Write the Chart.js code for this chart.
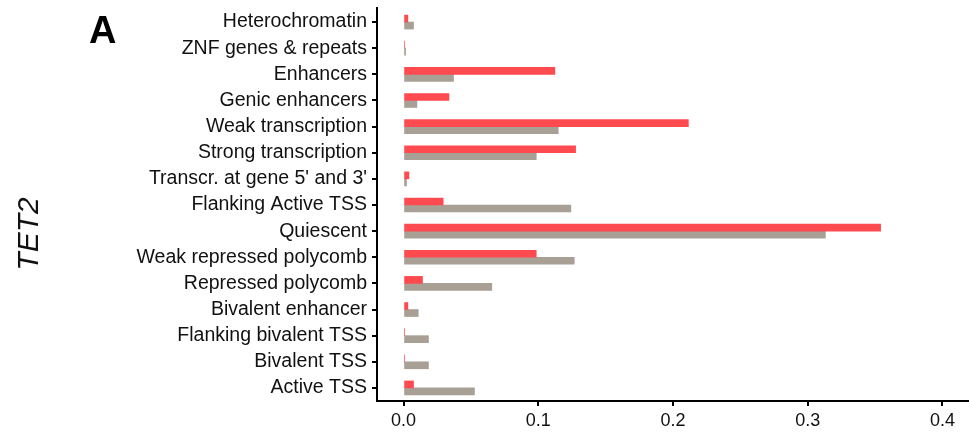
<!DOCTYPE html>
<html>
<head>
<meta charset="utf-8">
<script src="https://cdn.jsdelivr.net/npm/chart.js@4/dist/chart.umd.min.js"></script>
<style>
  html, body { margin: 0; padding: 0; background: #ffffff; }
  #wrap { width: 969px; height: 434px; position: relative; }
</style>
</head>
<body>
<div id="wrap"><canvas id="chart" width="969" height="434"></canvas></div>
<script>
// Chromatin states, listed top to bottom
const states = [
  "Heterochromatin",
  "ZNF genes & repeats",
  "Enhancers",
  "Genic enhancers",
  "Weak transcription",
  "Strong transcription",
  "Transcr. at gene 5' and 3'",
  "Flanking Active TSS",
  "Quiescent",
  "Weak repressed polycomb",
  "Repressed polycomb",
  "Bivalent enhancer",
  "Flanking bivalent TSS",
  "Bivalent TSS",
  "Active TSS"
];

// Fraction of TET2 sites per state
const tet2Sites = [0.0032, 0.0007, 0.1123, 0.0337, 0.2114, 0.1277, 0.0040, 0.0294, 0.3541, 0.0985, 0.0141, 0.0032, 0.0008, 0.0008, 0.0074];
// Genomic background fraction per state
const background = [0.0074, 0.0015, 0.0371, 0.0099, 0.1148, 0.0985, 0.0022, 0.1242, 0.3131, 0.1267, 0.0655, 0.0109, 0.0185, 0.0185, 0.0526];

const xTicks = [0.0, 0.1, 0.2, 0.3, 0.4];

const fontFamily = "'Liberation Sans', Arial, Helvetica, sans-serif";

// Panel letter, rotated gene name, and a short extension of the y axis line
const annotations = {
  id: 'annotations',
  afterDraw(chart) {
    const ctx = chart.ctx;
    const area = chart.chartArea;
    ctx.save();
    ctx.strokeStyle = '#000000';
    ctx.lineWidth = 2;
    ctx.beginPath();
    ctx.moveTo(area.left, area.top - 2);
    ctx.lineTo(area.left, area.top + 1);
    ctx.stroke();

    ctx.fillStyle = '#000000';
    ctx.font = "bold 38px " + fontFamily;
    ctx.textAlign = 'left';
    ctx.textBaseline = 'alphabetic';
    ctx.fillText('A', 89, 43);

    ctx.translate(38, 234);
    ctx.rotate(-Math.PI / 2);
    ctx.font = "italic 30px " + fontFamily;
    ctx.textAlign = 'center';
    ctx.textBaseline = 'alphabetic';
    ctx.fillStyle = '#111111';
    ctx.fillText('TET2', 0, 0);
    ctx.restore();
  }
};

new Chart(document.getElementById('chart'), {
  type: 'bar',
  data: {
    labels: states,
    datasets: [
      {
        label: 'TET2',
        data: tet2Sites,
        backgroundColor: '#ff4a50',
        borderWidth: 0,
        barThickness: 7
      },
      {
        label: 'Background',
        data: background,
        backgroundColor: '#a89f95',
        borderWidth: 0,
        barThickness: 7
      }
    ]
  },
  options: {
    indexAxis: 'y',
    responsive: false,
    animation: false,
    layout: { padding: { top: 9, left: 0, right: 0, bottom: 0 } },
    plugins: {
      legend: { display: false },
      tooltip: { enabled: false }
    },
    scales: {
      x: {
        type: 'linear',
        min: -0.0197,
        max: 0.4197,
        afterBuildTicks(scale) {
          scale.ticks = xTicks.map(v => ({ value: v }));
        },
        afterFit(scale) {
          scale.height = 33;
          scale.paddingLeft = 0;
          scale.paddingRight = 0;
        },
        grid: {
          drawOnChartArea: false,
          drawTicks: true,
          tickLength: 5,
          color: '#000000',
          lineWidth: 2
        },
        border: { display: true, color: '#000000', width: 2 },
        ticks: {
          color: '#111111',
          font: { family: fontFamily, size: 18 },
          padding: 4,
          callback: v => Number(v).toFixed(1)
        }
      },
      y: {
        afterFit(scale) {
          scale.width = 377;
          scale.paddingTop = 0;
          scale.paddingBottom = 0;
        },
        grid: {
          offset: false,
          drawOnChartArea: false,
          drawTicks: true,
          tickLength: 5,
          color: '#000000',
          lineWidth: 2
        },
        border: { display: true, color: '#000000', width: 2 },
        ticks: {
          autoSkip: false,
          color: '#111111',
          font: { family: fontFamily, size: 19.5 },
          padding: 5
        }
      }
    }
  },
  plugins: [annotations]
});
</script>
</body>
</html>
